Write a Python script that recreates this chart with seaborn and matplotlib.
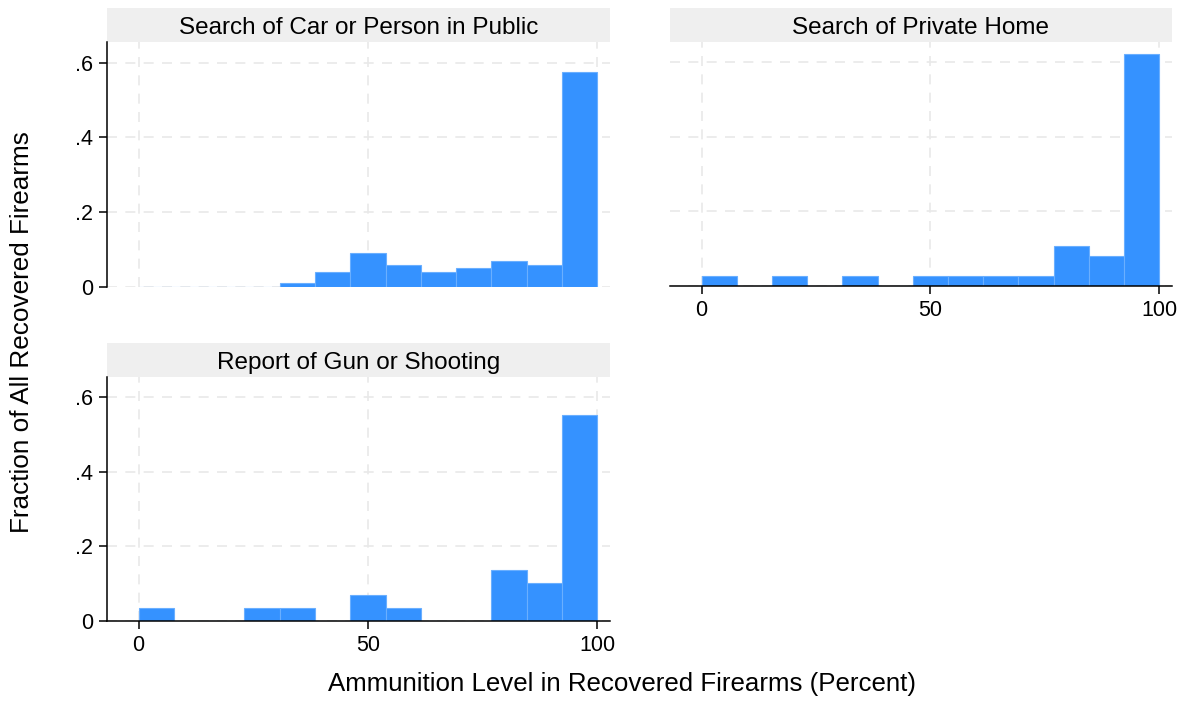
import numpy as np
import pandas as pd
import matplotlib.pyplot as plt
import seaborn as sns
from matplotlib.patches import Rectangle

sns.set_style("white")
plt.rcParams["font.family"] = ["Liberation Sans", "DejaVu Sans"]
plt.rcParams["text.color"] = "black"
plt.rcParams["xtick.color"] = "black"
plt.rcParams["ytick.color"] = "black"

# Panels (stop type) and histogram fractions per bin (13 equal bins over 0-100)
panels = [
    "Search of Car or Person in Public",
    "Search of Private Home",
    "Report of Gun or Shooting",
]
bin_edges = list(np.linspace(0, 100, 14))
bin_mids = [(a + b) / 2 for a, b in zip(bin_edges[:-1], bin_edges[1:])]

public_frac = [0, 0, 0, 0, 0.0098, 0.039, 0.090, 0.059, 0.039, 0.050, 0.069, 0.059, 0.574]
home_frac = [0.027, 0, 0.027, 0, 0.027, 0, 0.027, 0.027, 0.027, 0.027, 0.108, 0.081, 0.622]
shooting_frac = [0.0345, 0, 0, 0.0345, 0.0345, 0, 0.069, 0.0345, 0, 0, 0.138, 0.103, 0.552]

y_ticks = [0, 0.2, 0.4, 0.6]
y_ticklabels = ["0", ".2", ".4", ".6"]
x_ticks = [0, 50, 100]
x_ticklabels = ["0", "50", "100"]

bar_color = "#3592ff"
edge_color = "#6aafff"
grid_color = "#e9e9e9"
strip_color = "#efefef"


def main():
    frames = []
    for name, frac in zip(panels, [public_frac, home_frac, shooting_frac]):
        frames.append(pd.DataFrame({"stop": name, "ammo": bin_mids, "frac": frac}))
    df = pd.concat(frames, ignore_index=True)
    df = df[df.frac > 0]                      # empty bins are not drawn

    g = sns.FacetGrid(df, col="stop", col_order=panels, col_wrap=2,
                      sharex=True, sharey=True, height=3.5, aspect=1.7)
    g.map_dataframe(sns.histplot, x="ammo", weights="frac", bins=bin_edges,
                    color=bar_color, edgecolor=edge_color, linewidth=0.8, alpha=1)
    fig = g.figure
    fig.set_size_inches(11.91, 7.01)
    g.set_axis_labels("", "")
    g.set_titles("")

    W, H = 1191, 701
    boxes = [(107, 287, 503, 245), (670, 286, 502, 244), (107, 621, 503, 244)]

    for i, (ax, name) in enumerate(zip(g.axes.flat, panels)):
        l, b, w, h = boxes[i]
        ax.set_position([l / W, 1 - b / H, w / W, h / H])
        ax.set_xlim(-6.9, 102.8)
        ax.set_ylim(0, 0.655)
        ax.set_axisbelow(True)
        ax.grid(True, color=grid_color, linestyle=(0, (6, 5)), linewidth=1.2)
        ax.set_xticks(x_ticks)
        ax.set_yticks(y_ticks)
        ax.set_title("")

        for s in ["top", "right"]:
            ax.spines[s].set_visible(False)
        for s in ["left", "bottom"]:
            ax.spines[s].set_color("black")
            ax.spines[s].set_linewidth(1.1)

        ax.tick_params(axis="both", direction="out", length=6, width=1.1,
                       color="black", labelcolor="black", labelsize=15.5, pad=4,
                       bottom=True, left=True)

        if i == 0:
            ax.spines["bottom"].set_visible(False)
            ax.tick_params(axis="x", bottom=False, labelbottom=False)
        else:
            ax.tick_params(axis="x", labelbottom=True)
            ax.set_xticklabels(x_ticklabels)
        if i == 1:
            ax.spines["left"].set_visible(False)
            ax.tick_params(axis="y", left=False, labelleft=False)
        else:
            ax.tick_params(axis="y", labelleft=True)
            ax.set_yticklabels(y_ticklabels)

        # Stata-style strip above each panel
        strip_h = 34 / h
        ax.add_patch(Rectangle((0, 1), 1, strip_h, transform=ax.transAxes,
                               facecolor=strip_color, edgecolor="none", clip_on=False))
        ax.text(0.5, 1 + strip_h / 2 - 2.5 / h, name, transform=ax.transAxes,
                ha="center", va="center", fontsize=17.5)

    fig.text(0.0185, 0.526, "Fraction of All Recovered Firearms", rotation=90,
             ha="center", va="center", fontsize=18.8)
    fig.text(0.522, 0.024, "Ammunition Level in Recovered Firearms (Percent)",
             ha="center", va="center", fontsize=18.6)

    fig.savefig("out.png", dpi=100)


if __name__ == "__main__":
    main()
